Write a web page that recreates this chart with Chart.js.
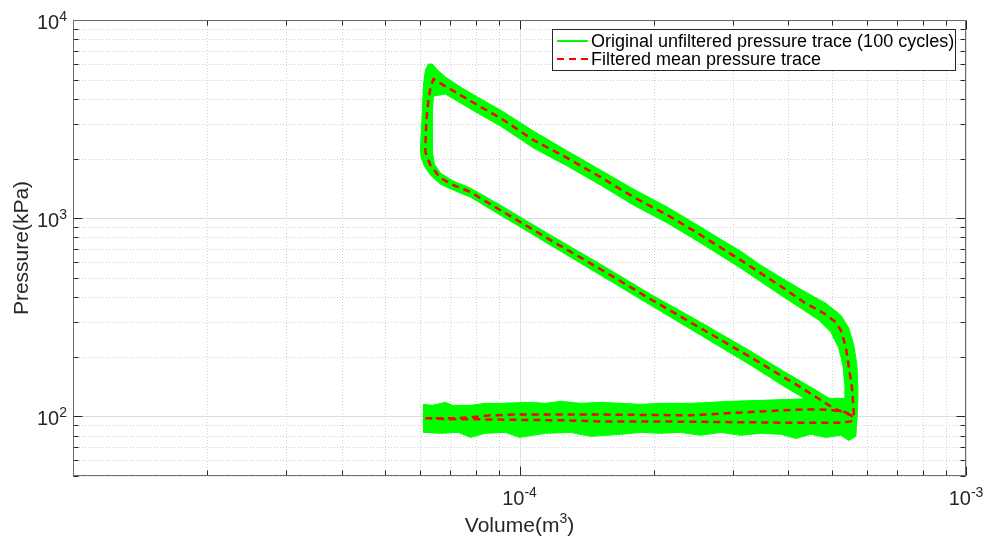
<!DOCTYPE html>
<html>
<head>
<meta charset="utf-8">
<title>p-V diagram</title>
<script src="https://cdn.jsdelivr.net/npm/chart.js@4/dist/chart.umd.min.js"></script>
<style>
  html, body { margin: 0; padding: 0; background: #fff; }
  #wrap { width: 987px; height: 539px; }
</style>
</head>
<body>
<div id="wrap"><canvas id="pv"></canvas></div>
<script>
// volumes are in cm^3 (converted to m^3 when plotted), pressures in kPa

// filtered mean cycle: intake, compression, combustion, expansion, exhaust
const meanVolume = [61.55, 70.04, 81.78, 100.0, 123.6, 151.9, 196.7, 254.6, 329.6, 426.6, 524.5, 552.3,
  560.9, 552.3, 505.8, 465.9, 426.6, 390.8, 329.6, 254.6, 196.7, 151.9, 117.4, 90.66, 77.66, 71.13, 66.53, 63.16, 61.55,
  61.55, 61.87, 62.52, 63.16, 64.16,
  67.56, 73.75, 80.53, 90.66, 107.5, 128.1, 151.9, 180.1, 214.7, 250.6, 313.0, 390.8, 433.4, 480.5, 511.1, 524.5, 538.2, 546.6, 555.2, 560.9,
  558.0, 538.2, 498.2, 449.3, 384.8, 329.6, 282.3, 241.8, 186.7, 137.0, 100.0, 86.10, 77.66, 70.04, 61.55];
const meanPressure = [97.7, 96.6, 96.6, 96.0, 95.5, 94.3, 94.3, 93.8, 93.3, 92.7, 92.7, 94.3,
  97.7, 101.2, 109.7, 123.3, 140.1, 157.4, 198.6, 278.3, 389.9, 552.6, 774.3, 1097, 1353, 1468, 1592, 1852, 2154,
  2337, 3126, 3945, 4536, 5035,
  4696, 4181, 3722, 3200, 2477, 2009, 1611, 1277, 1035, 840.2, 613.8, 443.1, 376.5, 331.3, 298.4, 271.9, 223.1, 176.8, 140.1, 103.6,
  100, 104.7, 107.8, 108.5, 107.2, 105.1, 103.2, 101.2, 101.7, 102.3, 102.3, 101.2, 98.8, 97.7, 97.7];

// spread of the 100 raw cycles: gas exchange strip
const rawGasVolume = [60.92, 63.83, 68.26, 70.76, 77.66, 83.91, 90.66, 105.8, 114.4, 123.6, 137.0, 151.9, 168.5, 186.7, 207.1, 241.8, 268.1, 297.2, 347.1, 405.2, 473.1, 538.2, 566.8,
  569.7, 566.8,
  546.6, 524.5, 485.5, 449.3, 415.7, 384.8, 347.1, 313.0, 282.3, 254.6, 229.6, 207.1, 186.7, 168.5, 144.3, 130.1, 114.4, 100.0, 93.03, 83.91, 77.66, 72.99, 66.53, 60.92];
const rawGasPressure = [115.0, 113.6, 117.7, 113.6, 113.6, 116.3, 116.3, 117.7, 116.3, 119.1, 116.3, 117.7, 116.3, 115.0, 116.3, 116.3, 117.7, 119.1, 120.4, 121.8, 123.3, 123.3, 120.4,
  101.2, 79.25,
  75.6, 80.2, 78.3, 81.1, 77.4, 81.1, 82.1, 80.2, 83.0, 80.2, 83.0, 82.1, 83.0, 81.1, 79.25, 83.0, 82.1, 78.3, 83.0, 82.1, 78.3, 83.0, 82.1, 83.0];

// spread of the 100 raw cycles: closed loop, outer and inner edge
const rawLoopOuterVolume = [569.7, 572.6, 572.6, 569.7, 560.9, 546.6, 524.5, 485.5, 437.9, 390.8, 347.1, 313.0, 282.3, 250.6, 214.7, 180.1, 151.9, 128.1, 107.5, 90.66, 80.53, 73.75, 68.26, 65.50,
  63.83, 62.52, 61.55, 60.92, 60.60, 60.29, 59.98, 60.29, 61.24, 63.16, 66.53, 71.13, 77.66, 90.66, 117.4, 151.9, 196.7, 254.6, 329.6, 390.8, 426.6, 473.1, 524.5, 552.3];
const rawLoopOuterPressure = [95.5, 120.4, 143.4, 180.9, 228.4, 278.3, 323.7, 372.2, 423.0, 491.9, 578.9, 681.3, 783.2, 921.8, 1136, 1401, 1748, 2180, 2750, 3511, 4084, 4587, 5153, 5590,
  5995, 5995, 5590, 4696, 3511, 2783, 2205, 2009, 1830, 1649, 1485, 1385, 1277, 1035, 730.4, 515.3, 363.6, 256.6, 180.9, 141.8, 126.2, 109.7, 97.7, 93.3];
const rawLoopInnerVolume = [64.16, 68.26, 73.75, 80.53, 90.66, 107.5, 128.1, 151.9, 180.1, 214.7, 250.6, 313.0, 390.8, 433.4, 468.3, 498.2, 519.0, 529.9, 535.5,
  535.5, 505.8, 465.9, 426.6, 390.8, 329.6, 254.6, 196.7, 151.9, 117.4, 90.66, 77.66, 71.13, 66.53, 64.49, 63.83, 63.83, 63.83];
const rawLoopInnerPressure = [4132, 4229, 3809, 3391, 2915, 2257, 1830, 1468, 1163, 943.4, 765.3, 559.1, 399.0, 343.1, 305.3, 265.6, 220.4, 180.9, 143.4,
  123.3, 119.1, 133.7, 150.2, 168.7, 212.9, 298.4, 413.2, 585.9, 820.8, 1163, 1418, 1538, 1688, 1874, 2154, 2783, 3511];

// axes
const xMajorTicks = [1e-5, 1e-4, 1e-3];
const xTickLabels = [null, '-4', '-3'];
const xMinorTicks = [2e-5, 3e-5, 4e-5, 5e-5, 6e-5, 7e-5, 8e-5, 9e-5, 2e-4, 3e-4, 4e-4, 5e-4, 6e-4, 7e-4, 8e-4, 9e-4];
const yMajorTicks = [1e2, 1e3, 1e4];
const yTickLabels = ['2', '3', '4'];
const yMinorTicks = [50, 60, 70, 80, 90, 200, 300, 400, 500, 600, 700, 800, 900, 2000, 3000, 4000, 5000, 6000, 7000, 8000, 9000];

const legendLabels = ['Original unfiltered pressure trace (100 cycles)', 'Filtered mean pressure trace'];
const rawColor = '#00ff00';
const meanColor = '#ff0000';

const FONT = "'Liberation Sans', Arial, Helvetica, sans-serif";
const TXT = '#262626';

function toPoints(vol, p) {
  return vol.map((v, i) => ({x: v * 1e-6, y: p[i]}));
}

// "10" with a raised exponent
function drawPower(ctx, exp, x, y, align, supDy) {
  ctx.font = '20px ' + FONT;
  let w1 = ctx.measureText('10').width;
  ctx.font = '14px ' + FONT;
  let w2 = ctx.measureText(exp).width;
  let left = align === 'center' ? x - (w1 + w2) / 2 : x - w1 - w2;
  ctx.textAlign = 'left';
  ctx.textBaseline = 'alphabetic';
  ctx.font = '20px ' + FONT;
  ctx.fillText('10', left, y);
  ctx.font = '14px ' + FONT;
  ctx.fillText(exp, left + w1, y + supDy);
}

function px(v) { return Math.round(v) + 0.5; }

const matlabAxes = {
  id: 'matlabAxes',
  beforeDatasetsDraw(chart) {
    const {ctx, chartArea: a} = chart;
    const xs = chart.scales.x, ys = chart.scales.y;
    ctx.save();
    ctx.lineWidth = 1;
    // minor grid, dotted
    ctx.strokeStyle = '#cfcfcf';
    ctx.setLineDash([1, 2]);
    ctx.beginPath();
    xMinorTicks.forEach(v => { let p = px(xs.getPixelForValue(v)); ctx.moveTo(p, a.top); ctx.lineTo(p, a.bottom); });
    yMinorTicks.forEach(v => { let p = px(ys.getPixelForValue(v)); ctx.moveTo(a.left, p); ctx.lineTo(a.right, p); });
    ctx.stroke();
    // major grid, solid
    ctx.setLineDash([]);
    ctx.strokeStyle = '#dedede';
    ctx.beginPath();
    xMajorTicks.forEach(v => { let p = px(xs.getPixelForValue(v)); ctx.moveTo(p, a.top); ctx.lineTo(p, a.bottom); });
    yMajorTicks.forEach(v => { let p = px(ys.getPixelForValue(v)); ctx.moveTo(a.left, p); ctx.lineTo(a.right, p); });
    ctx.stroke();

    // raw cycle spread, filled outlines (loop edges together so the middle stays open)
    ctx.beginPath();
    ctx.rect(a.left, a.top, a.right - a.left, a.bottom - a.top);
    ctx.clip();
    let groups = {};
    chart.data.datasets.forEach((ds, i) => {
      if (!ds.band) return;
      (groups[ds.band] = groups[ds.band] || []).push(chart.getDatasetMeta(i));
    });
    ctx.fillStyle = rawColor;
    ctx.strokeStyle = rawColor;
    ctx.lineJoin = 'round';
    for (const key in groups) {
      ctx.beginPath();
      groups[key].forEach(meta => {
        meta.data.forEach((pt, j) => j ? ctx.lineTo(pt.x, pt.y) : ctx.moveTo(pt.x, pt.y));
        ctx.closePath();
      });
      ctx.fill('evenodd');
      ctx.stroke();
    }
    ctx.restore();
  },
  afterDatasetsDraw(chart) {
    const {ctx, chartArea: a} = chart;
    const xs = chart.scales.x, ys = chart.scales.y;
    const L = px(a.left), R = px(a.right - 1), T = px(a.top), B = px(a.bottom - 1);
    ctx.save();
    ctx.lineWidth = 1;
    ctx.strokeStyle = TXT;
    // tick marks point inwards on all four sides
    ctx.beginPath();
    const tickX = (v, len) => { let p = px(xs.getPixelForValue(v)); ctx.moveTo(p, B); ctx.lineTo(p, B - len); ctx.moveTo(p, T); ctx.lineTo(p, T + len); };
    const tickY = (v, len) => { let p = px(ys.getPixelForValue(v)); ctx.moveTo(L, p); ctx.lineTo(L + len, p); ctx.moveTo(R, p); ctx.lineTo(R - len, p); };
    xMinorTicks.forEach(v => tickX(v, 5));
    xMajorTicks.forEach(v => tickX(v, 9));
    yMinorTicks.forEach(v => tickY(v, 5));
    yMajorTicks.forEach(v => tickY(v, 9));
    ctx.stroke();
    // box
    ctx.strokeStyle = '#6b6b6b';
    ctx.strokeRect(L, T, R - L, B - T);

    // tick labels
    ctx.fillStyle = TXT;
    xMajorTicks.forEach((v, i) => {
      if (xTickLabels[i] == null) return;
      drawPower(ctx, xTickLabels[i], xs.getPixelForValue(v), a.bottom + 29, 'center', -8);
    });
    yMajorTicks.forEach((v, i) => {
      drawPower(ctx, yTickLabels[i], a.left - 6, ys.getPixelForValue(v) + 9, 'right', -8.5);
    });

    // axis titles
    ctx.font = '21px ' + FONT;
    let t1 = 'Volume(m', t3 = ')';
    let w1 = ctx.measureText(t1).width, w3 = ctx.measureText(t3).width;
    ctx.font = '14px ' + FONT;
    let w2 = ctx.measureText('3').width;
    let cx = (a.left + a.right) / 2;
    let left = cx - (w1 + w2 + w3) / 2;
    ctx.font = '21px ' + FONT;
    ctx.fillText(t1, left, 532);
    ctx.fillText(t3, left + w1 + w2, 532);
    ctx.font = '14px ' + FONT;
    ctx.fillText('3', left + w1, 523);

    ctx.save();
    ctx.translate(28, (a.top + a.bottom) / 2);
    ctx.rotate(-Math.PI / 2);
    ctx.font = '21px ' + FONT;
    ctx.textAlign = 'center';
    ctx.fillText('Pressure(kPa)', 0, 0);
    ctx.restore();

    // legend box, top right inside the axes
    ctx.fillStyle = '#ffffff';
    ctx.fillRect(552.5, 29.5, 403, 41);
    ctx.strokeStyle = TXT;
    ctx.strokeRect(552.5, 29.5, 403, 41);
    ctx.lineWidth = 2;
    ctx.strokeStyle = rawColor;
    ctx.beginPath(); ctx.moveTo(557, 41); ctx.lineTo(588, 41); ctx.stroke();
    ctx.strokeStyle = meanColor;
    ctx.setLineDash([7, 5]);
    ctx.beginPath(); ctx.moveTo(557, 59); ctx.lineTo(588, 59); ctx.stroke();
    ctx.setLineDash([]);
    ctx.fillStyle = '#000';
    ctx.font = '18px ' + FONT;
    ctx.textAlign = 'left';
    ctx.fillText(legendLabels[0], 591, 47);
    ctx.fillText(legendLabels[1], 591, 65);
    ctx.restore();
  }
};

const bandStyle = {showLine: false, pointRadius: 0, pointHoverRadius: 0, borderWidth: 0};

new Chart(document.getElementById('pv'), {
  type: 'scatter',
  data: {
    datasets: [
      Object.assign({label: legendLabels[0], band: 'gas', data: toPoints(rawGasVolume, rawGasPressure)}, bandStyle),
      Object.assign({label: legendLabels[0], band: 'loop', data: toPoints(rawLoopOuterVolume, rawLoopOuterPressure)}, bandStyle),
      Object.assign({label: legendLabels[0], band: 'loop', data: toPoints(rawLoopInnerVolume, rawLoopInnerPressure)}, bandStyle),
      {
        label: legendLabels[1],
        data: toPoints(meanVolume, meanPressure),
        showLine: true,
        borderColor: meanColor,
        borderWidth: 2.5,
        borderDash: [7, 5],
        pointRadius: 0,
        tension: 0
      }
    ]
  },
  options: {
    responsive: true,
    maintainAspectRatio: false,
    animation: false,
    devicePixelRatio: 1,
    events: [],
    layout: {padding: {top: 20, right: 21, left: 0, bottom: 0}},
    plugins: {legend: {display: false}, tooltip: {enabled: false}},
    scales: {
      x: {
        type: 'logarithmic', min: 1e-5, max: 1e-3,
        ticks: {display: false}, grid: {display: false}, border: {display: false},
        afterFit(s) { s.height = 63; }
      },
      y: {
        type: 'logarithmic', min: 50, max: 1e4,
        ticks: {display: false}, grid: {display: false}, border: {display: false},
        afterFit(s) { s.width = 73; }
      }
    }
  },
  plugins: [matlabAxes]
});
</script>
</body>
</html>
